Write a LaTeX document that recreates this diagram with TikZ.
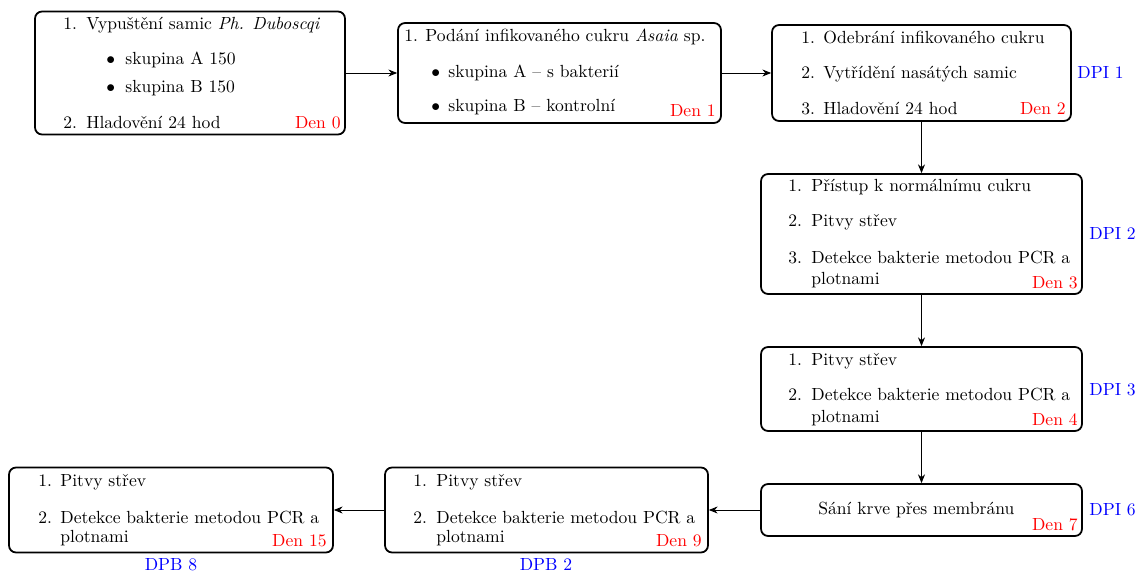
\documentclass[tikz,border=0pt]{standalone}
\usetikzlibrary{arrows.meta}
\begin{document}
\begin{tikzpicture}[x=0.02cm,y=-0.02cm,
  box/.style={draw,line width=1pt,rounded corners=4pt,inner sep=0pt,fill=white},
  txt/.style={inner sep=0pt,anchor=base west},
  den/.style={inner sep=0pt,anchor=base east,text=red},
  dpi/.style={inner sep=0pt,anchor=base west,text=blue},
  dpb/.style={inner sep=0pt,anchor=base,text=blue},
  conn/.style={-{Stealth[length=5pt,width=4pt]},line width=0.5pt}]
\useasboundingbox (0,0) rectangle (1139,574);
% boxes
\node[box,minimum width=6.20cm,minimum height=2.46cm] (b0) at (190,73) {};
\node[box,minimum width=6.46cm,minimum height=2.00cm] (b1) at (559.5,73) {};
\node[box,minimum width=5.98cm,minimum height=1.92cm] (b2) at (921.5,73) {};
\node[box,minimum width=6.42cm,minimum height=2.40cm] (b3) at (921.5,234) {};
\node[box,minimum width=6.42cm,minimum height=1.68cm] (b4) at (921.5,389) {};
\node[box,minimum width=6.42cm,minimum height=1.04cm] (b5) at (921.5,510) {};
\node[box,minimum width=6.46cm,minimum height=1.70cm] (b6) at (546.5,510) {};
\node[box,minimum width=6.48cm,minimum height=1.70cm] (b7) at (171,510) {};
% connectors
\draw[conn] (b0.east) -- (b1.west);
\draw[conn] (b1.east) -- (b2.west);
\draw[conn] (b2.south) -- (b3.north);
\draw[conn] (b3.south) -- (b4.north);
\draw[conn] (b4.south) -- (b5.north);
\draw[conn] (b5.west) -- (b6.east);
\draw[conn] (b6.west) -- (b7.east);
% box 0
\node[txt] (n0a) at (63,30) {1.};
\node[txt] (t0a) at (86,30) {Vypuštění samic \textit{Ph. Duboscqi}};
\node[txt] (u0a) at (106,65) {$\bullet$};
\node[txt] (t0b) at (125,65) {skupina A 150};
\node[txt] (u0b) at (106,93) {$\bullet$};
\node[txt] (t0c) at (125,93) {skupina B 150};
\node[txt] (n0b) at (63,129) {2.};
\node[txt] (t0d) at (86,129) {Hladovění 24 hod};
\node[den] (d0) at (341,129) {Den 0};
% box 1
\node[txt] (n1a) at (404,42) {1.};
\node[txt] (t1a) at (425,42) {Podání infikovaného cukru \textit{Asaia} sp.};
\node[txt] (u1a) at (431,78) {$\bullet$};
\node[txt] (t1b) at (448,78) {skupina A -- s bakterií};
\node[txt] (u1b) at (431,112) {$\bullet$};
\node[txt] (t1c) at (448,112) {skupina B -- kontrolní};
\node[den] (d1) at (716,117) {Den 1};
% box 2
\node[txt] (n2a) at (801,44) {1.};
\node[txt] (t2a) at (823,44) {Odebrání infikovaného cukru};
\node[txt] (n2b) at (801,79) {2.};
\node[txt] (t2b) at (823,79) {Vytřídění nasátých samic};
\node[txt] (n2c) at (801,115) {3.};
\node[txt] (t2c) at (823,115) {Hladovění 24 hod};
\node[den] (d2) at (1066,115) {Den 2};
\node[dpi] (p1) at (1077,79) {DPI 1};
% box 3
\node[txt] (n3a) at (788,192) {1.};
\node[txt] (t3a) at (811,192) {Přístup k normálnímu cukru};
\node[txt] (n3b) at (788,227) {2.};
\node[txt] (t3b) at (811,227) {Pitvy střev};
\node[txt] (n3c) at (788,263) {3.};
\node[txt] (t3c) at (811,263) {Detekce bakterie metodou PCR a};
\node[txt] (t3d) at (811,284) {plotnami};
\node[den] (d3) at (1078,288) {Den 3};
\node[dpi] (p2) at (1089,239) {DPI 2};
% box 4
\node[txt] (n4a) at (788,365) {1.};
\node[txt] (t4a) at (811,365) {Pitvy střev};
\node[txt] (n4b) at (788,400) {2.};
\node[txt] (t4b) at (811,400) {Detekce bakterie metodou PCR a};
\node[txt] (t4c) at (811,422) {plotnami};
\node[den] (d4) at (1078,425) {Den 4};
\node[dpi] (p3) at (1089,395) {DPI 3};
% box 5
\node[txt] (t5a) at (818,514) {Sání krve přes membránu};
\node[den] (d5) at (1078,530) {Den 7};
\node[dpi] (p6) at (1089,515) {DPI 6};
% box 6
\node[txt] (n6a) at (413,486) {1.};
\node[txt] (t6a) at (436,486) {Pitvy střev};
\node[txt] (n6b) at (413,523) {2.};
\node[txt] (t6b) at (436,523) {Detekce bakterie metodou PCR a};
\node[txt] (t6c) at (436,542) {plotnami};
\node[den] (d6) at (702,546) {Den 9};
\node[dpb] (q2) at (546,570) {DPB 2};
% box 7
\node[txt] (n7a) at (38,486) {1.};
\node[txt] (t7a) at (60,486) {Pitvy střev};
\node[txt] (n7b) at (38,523) {2.};
\node[txt] (t7b) at (60,523) {Detekce bakterie metodou PCR a};
\node[txt] (t7c) at (60,542) {plotnami};
\node[den] (d7) at (327,546) {Den 15};
\node[dpb] (q8) at (171,570) {DPB 8};
\end{tikzpicture}
\end{document}
